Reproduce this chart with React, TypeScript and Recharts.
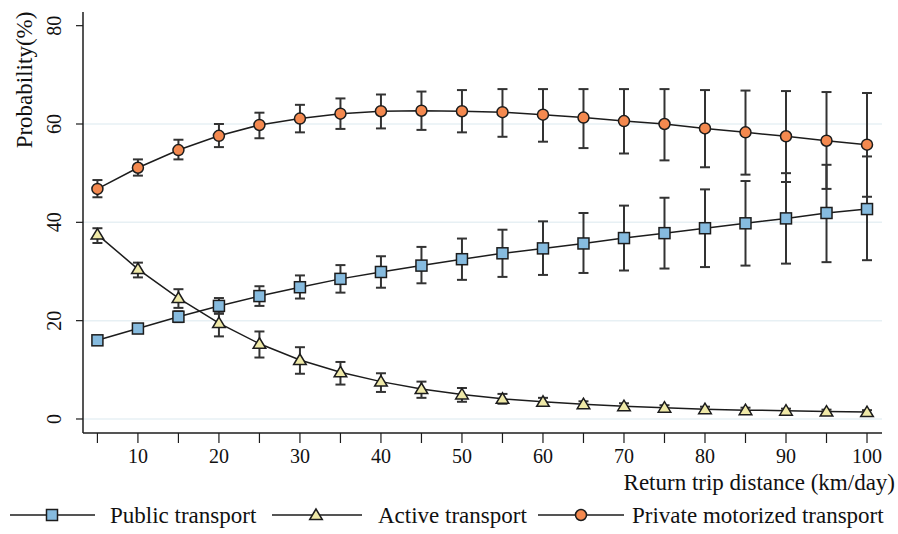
import React from 'react';
import {
  ComposedChart,
  Line,
  XAxis,
  YAxis,
  ErrorBar,
  ReferenceLine,
  Legend,
} from 'recharts';

const distance = [5, 10, 15, 20, 25, 30, 35, 40, 45, 50, 55, 60, 65, 70, 75, 80, 85, 90, 95, 100];

const publicMean = [16.0, 18.4, 20.8, 23.0, 25.0, 26.8, 28.5, 29.9, 31.2, 32.5, 33.7, 34.7, 35.7, 36.8, 37.8, 38.8, 39.8, 40.8, 41.9, 42.7];
const publicLow = [15.2, 17.5, 19.7, 21.4, 23.0, 24.5, 25.7, 26.7, 27.6, 28.3, 28.9, 29.3, 29.7, 30.2, 30.6, 30.9, 31.2, 31.6, 31.9, 32.3];
const publicHigh = [16.8, 19.3, 21.9, 24.6, 27.0, 29.2, 31.3, 33.1, 35.0, 36.7, 38.5, 40.2, 41.9, 43.4, 45.0, 46.7, 48.4, 50.0, 51.7, 53.4];

const activeMean = [37.5, 30.5, 24.6, 19.5, 15.3, 12.0, 9.5, 7.6, 6.1, 5.0, 4.1, 3.5, 3.0, 2.6, 2.3, 2.0, 1.8, 1.7, 1.5, 1.4];
const activeLow = [35.8, 28.8, 22.6, 16.8, 12.5, 9.2, 7.0, 5.5, 4.3, 3.5, 3.1, 2.7, 2.3, 2.0, 1.8, 1.6, 1.4, 1.3, 1.1, 1.0];
const activeHigh = [38.8, 31.8, 26.4, 21.5, 17.8, 14.6, 11.6, 9.3, 7.6, 6.3, 5.1, 4.3, 3.6, 3.2, 2.8, 2.5, 2.3, 2.1, 1.9, 1.8];

const privateMean = [46.8, 51.1, 54.7, 57.6, 59.8, 61.1, 62.1, 62.6, 62.7, 62.6, 62.4, 61.9, 61.3, 60.6, 60.0, 59.1, 58.3, 57.5, 56.6, 55.8];
const privateLow = [45.1, 49.5, 52.8, 55.3, 57.1, 58.3, 59.0, 59.1, 58.8, 58.3, 57.4, 56.4, 55.1, 54.0, 52.6, 51.2, 49.7, 48.2, 46.8, 45.2];
const privateHigh = [48.6, 52.8, 56.8, 60.0, 62.3, 63.9, 65.2, 66.0, 66.6, 66.9, 67.1, 67.1, 67.1, 67.1, 67.1, 66.9, 66.8, 66.7, 66.5, 66.3];

const xTicks = [5, 10, 15, 20, 25, 30, 35, 40, 45, 50, 55, 60, 65, 70, 75, 80, 85, 90, 95, 100];
const yTicks = [0, 20, 40, 60, 80];
const gridValues = [0, 20, 40, 60];

const seriesNames = ['Public transport', 'Active transport', 'Private motorized transport'];

const data = distance.map((d, i) => ({
  distance: d,
  pub: publicMean[i],
  pubErr: [publicMean[i] - publicLow[i], publicHigh[i] - publicMean[i]],
  act: activeMean[i],
  actErr: [activeMean[i] - activeLow[i], activeHigh[i] - activeMean[i]],
  priv: privateMean[i],
  privErr: [privateMean[i] - privateLow[i], privateHigh[i] - privateMean[i]],
}));

const FONT = '"Liberation Serif", "Times New Roman", serif';
const INK = '#1c1c1c';
const BLUE = '#86bbdf';
const YELLOW = '#efe9a8';
const ORANGE = '#f4894f';

const SquareMark = ({ cx, cy }: { cx: number; cy: number }) => (
  <rect x={cx - 5.5} y={cy - 5.5} width={11} height={11} fill={BLUE} stroke={INK} strokeWidth={1.5} />
);
const TriangleMark = ({ cx, cy }: { cx: number; cy: number }) => (
  <polygon
    points={`${cx},${cy - 6} ${cx - 6.3},${cy + 4.5} ${cx + 6.3},${cy + 4.5}`}
    fill={YELLOW}
    stroke={INK}
    strokeWidth={1.5}
    strokeLinejoin="miter"
  />
);
const CircleMark = ({ cx, cy }: { cx: number; cy: number }) => (
  <circle cx={cx} cy={cy} r={5.5} fill={ORANGE} stroke={INK} strokeWidth={1.5} />
);

const makeDot = (Mark: any) => (props: any) => {
  const { cx, cy, index } = props;
  if (cx == null || cy == null) return <g key={`d-${index}`} />;
  return (
    <g key={`d-${index}`}>
      <Mark cx={cx} cy={cy} />
    </g>
  );
};

const XTick = (props: any) => {
  const { x, y, payload } = props;
  if (payload.value % 10 !== 0) return <g />;
  return (
    <text x={x} y={y} dy="0.71em" textAnchor="middle" fontFamily={FONT} fontSize={20} fill="#111">
      {payload.value}
    </text>
  );
};

const YTick = (props: any) => {
  const { y, payload } = props;
  const bx = 61;
  return (
    <text
      x={bx}
      y={y}
      textAnchor="middle"
      transform={`rotate(-90 ${bx} ${y})`}
      fontFamily={FONT}
      fontSize={20}
      fill="#111"
    >
      {payload.value}
    </text>
  );
};

const LegendContent = () => {
  const items = [
    { name: seriesNames[0], x0: 10, x1: 95, mx: 52, tx: 110, Mark: SquareMark },
    { name: seriesNames[1], x0: 272, x1: 362, mx: 316, tx: 378, Mark: TriangleMark },
    { name: seriesNames[2], x0: 538, x1: 624, mx: 581, tx: 632, Mark: CircleMark },
  ];
  const ly = 16;
  return (
    <svg width={898} height={34} style={{ display: 'block', overflow: 'visible' }}>
      {items.map((it) => (
        <g key={it.name}>
          <line x1={it.x0} y1={ly} x2={it.x1} y2={ly} stroke={INK} strokeWidth={1.5} />
          <it.Mark cx={it.mx} cy={ly} />
          <text x={it.tx} y={ly + 8} fontFamily={FONT} fontSize={23} fill="#111">
            {it.name}
          </text>
        </g>
      ))}
    </svg>
  );
};

export default function App() {
  return (
    <div style={{ position: 'absolute', left: 0, top: 0, width: 898, height: 534, background: '#fff' }}>
      <ComposedChart
        width={898}
        height={534}
        data={data}
        margin={{ top: 12, right: 16, bottom: 1, left: 0 }}
      >
        {gridValues.map((v) => (
          <ReferenceLine key={`g-${v}`} y={v} stroke="#e7f0f4" strokeWidth={1.5} />
        ))}
        <XAxis
          dataKey="distance"
          type="number"
          domain={[3.22, 101.85]}
          allowDataOverflow
          ticks={xTicks}
          interval={0}
          tick={<XTick />}
          tickSize={10}
          tickMargin={6}
          height={100}
          axisLine={{ stroke: INK, strokeWidth: 1.5 }}
          tickLine={{ stroke: INK, strokeWidth: 1.2 }}
          label={{
            content: () => (
              <text x={895} y={490} textAnchor="end" fontFamily={FONT} fontSize={23} fill="#111">
                Return trip distance (km/day)
              </text>
            ),
          }}
        />
        <YAxis
          type="number"
          domain={[-2.85, 82.78]}
          allowDataOverflow
          ticks={yTicks}
          interval={0}
          tick={<YTick />}
          tickSize={7}
          width={83}
          axisLine={{ stroke: INK, strokeWidth: 1.5 }}
          tickLine={{ stroke: INK, strokeWidth: 1.2 }}
          label={{
            content: () => (
              <text
                x={32}
                y={80}
                textAnchor="middle"
                transform="rotate(-90 32 80)"
                fontFamily={FONT}
                fontSize={23}
                fill="#111"
              >
                Probability(%)
              </text>
            ),
          }}
        />
        <Legend
          layout="horizontal"
          verticalAlign="middle"
          align="center"
          content={<LegendContent />}
          wrapperStyle={{ position: 'absolute', left: 0, top: 499, width: 898, height: 34 }}
        />
        <Line
          name={seriesNames[1]}
          dataKey="act"
          type="linear"
          stroke={INK}
          strokeWidth={1.5}
          dot={makeDot(TriangleMark)}
          activeDot={false}
          isAnimationActive={false}
        >
          <ErrorBar dataKey="actErr" width={5} stroke="#333" strokeWidth={2} direction="y" />
        </Line>
        <Line
          name={seriesNames[0]}
          dataKey="pub"
          type="linear"
          stroke={INK}
          strokeWidth={1.5}
          dot={makeDot(SquareMark)}
          activeDot={false}
          isAnimationActive={false}
        >
          <ErrorBar dataKey="pubErr" width={5} stroke="#333" strokeWidth={2} direction="y" />
        </Line>
        <Line
          name={seriesNames[2]}
          dataKey="priv"
          type="linear"
          stroke={INK}
          strokeWidth={1.5}
          dot={makeDot(CircleMark)}
          activeDot={false}
          isAnimationActive={false}
        >
          <ErrorBar dataKey="privErr" width={5} stroke="#333" strokeWidth={2} direction="y" />
        </Line>
      </ComposedChart>
    </div>
  );
}
